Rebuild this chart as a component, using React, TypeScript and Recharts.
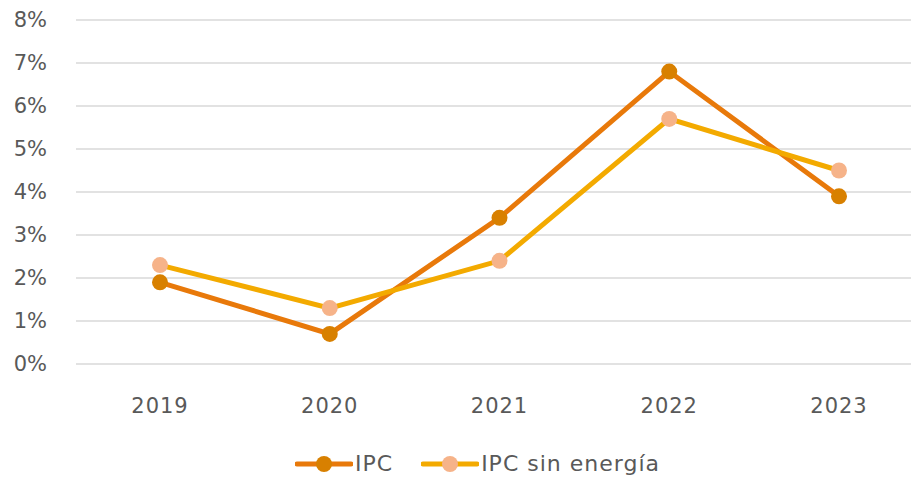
import React from 'react';
import { LineChart, Line, XAxis, YAxis, CartesianGrid, Legend } from 'recharts';

const years = ['2019', '2020', '2021', '2022', '2023'];
const ipc = [1.9, 0.7, 3.4, 6.8, 3.9];
const ipcSinEnergia = [2.3, 1.3, 2.4, 5.7, 4.5];
const yTicks = [0, 1, 2, 3, 4, 5, 6, 7, 8];

const data = years.map((y, i) => ({ year: y, ipc: ipc[i], sin: ipcSinEnergia[i] }));

const FONT = '"DejaVu Sans", sans-serif';
const TEXT = '#595959';

const series = [
  { key: 'ipc', name: 'IPC', line: '#E8790A', dot: '#D88000' },
  { key: 'sin', name: 'IPC sin energía', line: '#F3AA00', dot: '#F6B389' },
];

const LegendContent = () => (
  <div style={{ display: 'flex', justifyContent: 'center', alignItems: 'center', fontFamily: FONT, fontSize: 22, lineHeight: '24px', color: TEXT, letterSpacing: 1, marginTop: 18, paddingLeft: 44 }}>
    {series.map((s, i) => (
      <div key={s.key} style={{ display: 'flex', alignItems: 'center', marginLeft: i === 0 ? 0 : 28 }}>
        <svg width={58} height={20} style={{ display: 'block' }}>
          <line x1={2} y1={10} x2={56} y2={10} stroke={s.line} strokeWidth={5} strokeLinecap="round" />
          <circle cx={29} cy={10} r={8} fill={s.dot} />
        </svg>
        <span style={{ marginLeft: 2, lineHeight: '24px' }}>{s.name}</span>
      </div>
    ))}
  </div>
);

export default function App() {
  return (
    <div style={{ position: 'absolute', left: 0, top: 0, width: 911, height: 477, background: '#fff' }}>
      <LineChart width={911} height={477} data={data} margin={{ top: 20, right: 0, left: 0, bottom: 0 }}>
        <CartesianGrid horizontal vertical={false} stroke="#d9d9d9" strokeWidth={1.5} />
        <XAxis
          dataKey="year"
          axisLine={false}
          tickLine={false}
          tickSize={0}
          tickMargin={34}
          height={70}
          padding={{ left: 84, right: 72 }}
          tick={{ fill: TEXT, fontSize: 21, fontFamily: FONT, letterSpacing: 1 }}
        />
        <YAxis
          domain={[0, 8]}
          ticks={yTicks}
          interval={0}
          width={76}
          axisLine={false}
          tickLine={false}
          tickSize={0}
          tickMargin={29}
          tickFormatter={(v: number) => `${v}%`}
          tick={{ fill: TEXT, fontSize: 21, fontFamily: FONT }}
        />
        <Legend verticalAlign="bottom" height={43} content={<LegendContent />} />
        {series.map((s) => (
          <Line
            key={s.key}
            type="linear"
            dataKey={s.key}
            name={s.name}
            stroke={s.line}
            strokeWidth={5}
            dot={{ r: 8, fill: s.dot, stroke: 'none', strokeWidth: 0 }}
            activeDot={false}
            isAnimationActive={false}
          />
        ))}
      </LineChart>
    </div>
  );
}
